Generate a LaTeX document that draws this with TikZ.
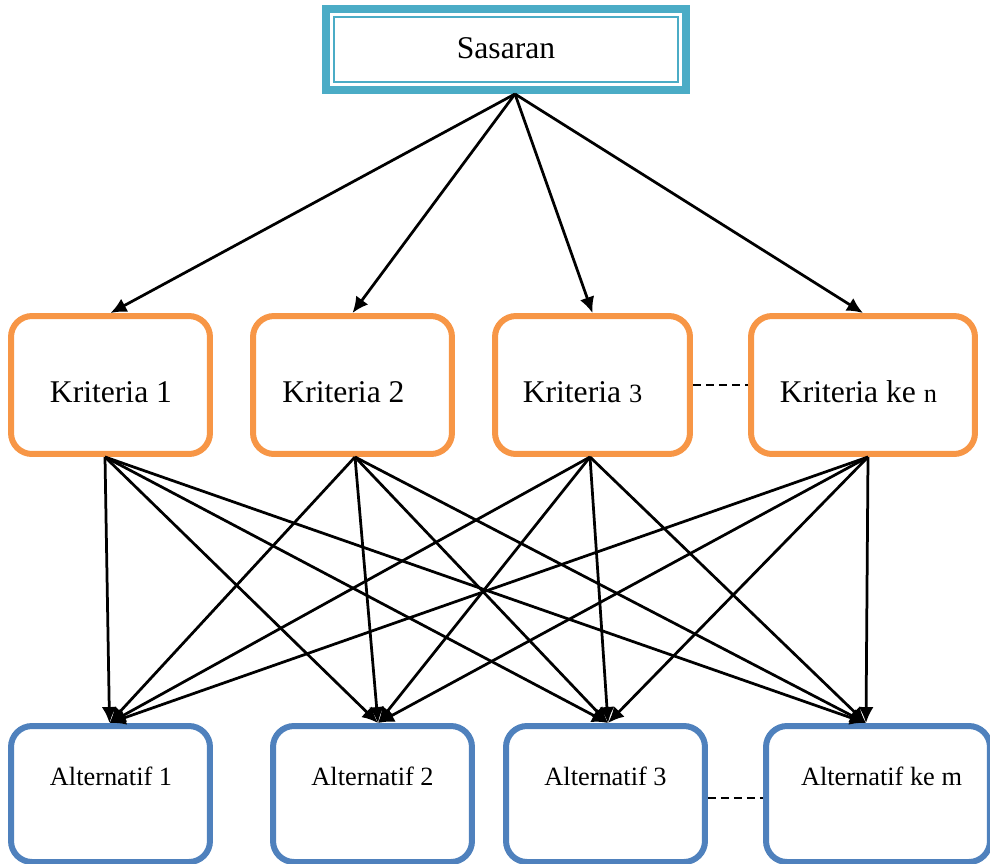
\documentclass[tikz,border=0pt]{standalone}
\usepackage{fontspec}
\setmainfont{Liberation Serif}
\usepackage{xcolor}
\usetikzlibrary{arrows.meta}
\definecolor{tepi}{HTML}{4BACC6}
\definecolor{oranye}{HTML}{F79646}
\definecolor{biru}{HTML}{4F81BD}

\begin{document}
\begin{tikzpicture}[>={Latex[length=0.32cm, width=0.3cm]}, x=0.02cm, y=-0.02cm,
    kotak/.style={draw, rounded corners=0.42cm, line width=0.12cm},
    krit/.style={kotak, draw=oranye, minimum height=2.76cm},
    alt/.style={kotak, draw=biru, minimum height=2.72cm},
    besar/.style={anchor=base, font=\fontsize{18}{21}\selectfont},
    kecil/.style={anchor=base, font=\fontsize{15}{18}\selectfont},
    panah/.style={->, line width=0.055cm},
    putus/.style={line width=0.035cm, dash pattern=on 0.16cm off 0.1cm}]
    \useasboundingbox (0,0) rectangle (990,863);

    % Kotak sasaran (bingkai tebal-tipis)
    \node[draw=tepi, line width=0.16cm, minimum width=7.2cm, minimum height=1.62cm,
        path picture={\draw[tepi, line width=0.04cm]
            ([xshift=0.16cm, yshift=-0.16cm]path picture bounding box.north west) rectangle
            ([xshift=-0.16cm, yshift=0.16cm]path picture bounding box.south east);}]
        (sasaran) at (506,49.5) {};
    \node[besar] (sasaran-teks) at (506,58) {Sasaran};

    % Kotak kriteria
    \node[krit, minimum width=3.98cm] (krit1) at (110.5,385) {};
    \node[krit, minimum width=3.98cm] (krit2) at (352.5,385) {};
    \node[krit, minimum width=3.90cm] (krit3) at (592.5,385) {};
    \node[krit, minimum width=4.48cm] (krit4) at (863,385) {};
    \node[besar] (krit1-teks) at (111,402) {Kriteria 1};
    \node[besar] (krit2-teks) at (343.5,402) {Kriteria 2};
    \node[besar] (krit3-teks) at (582.5,402) {Kriteria {\fontsize{15}{18}\selectfont 3}};
    \node[besar] (krit4-teks) at (858.5,402) {Kriteria ke {\fontsize{15}{18}\selectfont n}};

    % Kotak alternatif
    \node[alt, minimum width=3.98cm] (alt1) at (110.5,794) {};
    \node[alt, minimum width=3.98cm] (alt2) at (372.5,794) {};
    \node[alt, minimum width=3.98cm] (alt3) at (605.5,794) {};
    \node[alt, minimum width=4.48cm] (alt4) at (878,794) {};
    \node[kecil] (alt1-teks) at (111,785) {Alternatif 1};
    \node[kecil] (alt2-teks) at (372.5,785) {Alternatif 2};
    \node[kecil] (alt3-teks) at (605.5,785) {Alternatif 3};
    \node[kecil] (alt4-teks) at (881.5,785) {Alternatif ke m};

    % Titik keluar dan masuk panah
    \coordinate (krit1-out) at ([xshift=-0.11cm]krit1.south);
    \coordinate (krit2-out) at ([xshift=0.05cm]krit2.south);
    \coordinate (krit3-out) at ([xshift=-0.05cm]krit3.south);
    \coordinate (krit4-out) at ([xshift=0.1cm]krit4.south);
    \coordinate (alt1-in) at ([xshift=-0.02cm]alt1.north);
    \coordinate (alt2-in) at ([xshift=0.11cm]alt2.north);
    \coordinate (alt3-in) at ([xshift=0.05cm]alt3.north);
    \coordinate (alt4-in) at ([xshift=-0.24cm]alt4.north);

    % Panah sasaran ke kriteria
    \foreach \k in {1,...,4}
        \draw[panah] ([xshift=0.18cm]sasaran.south) -- (krit\k.north);

    % Panah kriteria ke alternatif
    \foreach \k in {1,...,4}
        \foreach \a in {1,...,4}
            \draw[panah] (krit\k-out) -- (alt\a-in);

    % Garis putus-putus
    \draw[putus] (krit3.east) -- (krit4.west);
    \draw[putus] ([yshift=-0.08cm]alt3.east) -- ([yshift=-0.08cm]alt4.west);
\end{tikzpicture}
\end{document}
